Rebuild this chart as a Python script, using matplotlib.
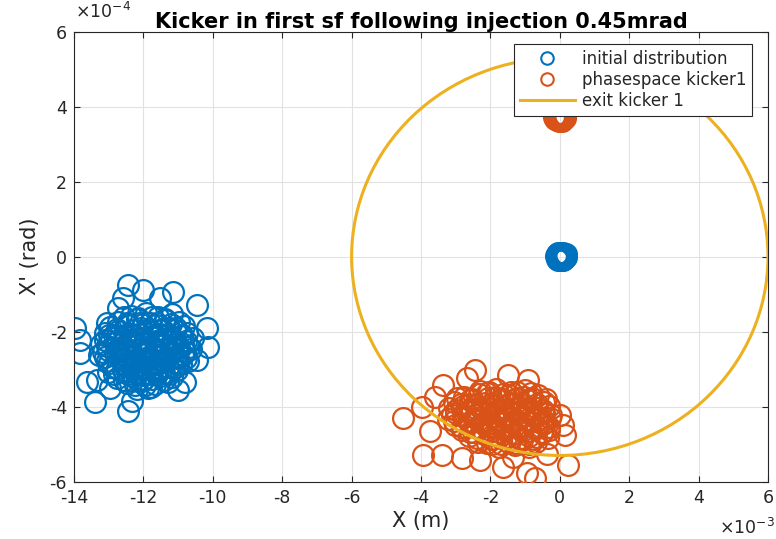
import matplotlib
matplotlib.use("Agg")
import matplotlib.pyplot as plt
from matplotlib.patches import Ellipse
from matplotlib.lines import Line2D

plt.rcParams['font.family'] = ['DejaVu Sans']
plt.rcParams['axes.unicode_minus'] = False

# Positions in units of 1e-3 m (x) and 1e-4 rad (x')
init_x = [
    # outer halo
    -12.44, -12.01, -11.15, -11.52, -12.59, -10.46, -12.73, -13.05, -13.97, -13.83,
    -13.83, -10.17, -10.14, -10.46, -13.63, -13.34, -13.39, -12.44, -12.33, -11.00,
    -10.80, -11.87, -12.96,
    # core
    -12.35, -11.93, -11.57, -11.18,
    -12.72, -12.18, -11.82, -11.38, -10.98,
    -12.97, -12.48, -12.06, -11.63, -11.27, -10.83,
    -13.12, -12.73, -12.32, -11.88, -11.52, -11.08, -10.73,
    -12.92, -12.53, -12.17, -11.73, -11.36, -10.93, -10.58,
    -13.22, -12.78, -12.42, -11.98, -11.62, -11.18, -10.87,
    -13.02, -12.58, -12.22, -11.79, -11.41, -10.98, -10.63,
    -13.27, -12.83, -12.47, -12.03, -11.67, -11.23, -10.86,
    -13.06, -12.63, -12.27, -11.83, -11.47, -11.03, -10.72,
    -12.88, -12.52, -12.08, -11.72, -11.28, -10.91,
    -13.02, -12.58, -12.22, -11.78, -11.42, -11.03,
    -12.77, -12.33, -11.97, -11.53, -11.17,
    -12.47, -12.03, -11.67, -11.28,
    -12.18, -11.77,
    -12.55, -12.10, -11.45, -12.85, -12.35, -11.55, -11.02, -12.70, -11.90, -11.15,
    -12.38, -11.58, -12.85, -11.88, -12.25,
    -12.15, -11.75, -11.38,
    -12.48, -12.00, -11.60, -11.20,
    -12.75, -12.28, -11.85, -11.45, -11.05,
    -13.00, -12.52, -12.10, -11.70, -11.30, -10.90,
    -13.10, -12.72, -12.35, -11.95, -11.55, -11.15, -10.78,
    -13.05, -12.62, -12.20, -11.80, -11.40, -11.00, -10.70,
    -13.15, -12.75, -12.35, -11.95, -11.55, -11.15, -10.80,
    -13.12, -12.68, -12.30, -11.90, -11.50, -11.10, -10.78,
    -12.98, -12.60, -12.18, -11.78, -11.38, -11.00,
    -12.75, -12.32, -11.92, -11.50, -11.12,
    -12.45, -12.05, -11.62, -11.25,
    -12.55, -12.15, -11.75, -11.40,
    -11.95,
    # beam on axis
    -0.12, -0.09, -0.09, -0.05, -0.04, -0.06, -0.01, 0.00, 0.02, 0.03,
    0.04, 0.06, 0.07, 0.09, 0.10, 0.11, 0.13, 0.14, 0.16, 0.18,
    0.19, 0.15, -0.03, 0.08, -0.08, 0.12, 0.01, 0.04,
]
init_y = [
    -0.75, -0.89, -0.94, -1.10, -1.10, -1.29, -1.37, -1.77, -1.90, -2.22,
    -2.57, -1.90, -2.41, -2.75, -3.35, -3.28, -3.88, -4.12, -3.85, -3.55,
    -3.35, -3.49, -3.49,
    -1.58, -1.50, -1.62, -1.53,
    -1.74, -1.66, -1.77, -1.68, -1.75,
    -1.88, -1.83, -1.91, -1.82, -1.90, -1.86,
    -2.03, -1.97, -2.05, -1.99, -2.06, -1.96, -2.04,
    -2.18, -2.12, -2.20, -2.13, -2.19, -2.11, -2.17,
    -2.33, -2.27, -2.35, -2.28, -2.34, -2.26, -2.32,
    -2.48, -2.42, -2.50, -2.43, -2.49, -2.41, -2.47,
    -2.63, -2.57, -2.64, -2.58, -2.65, -2.56, -2.62,
    -2.78, -2.72, -2.80, -2.73, -2.79, -2.71, -2.77,
    -2.93, -2.87, -2.95, -2.88, -2.94, -2.86,
    -3.08, -3.02, -3.10, -3.03, -3.09, -3.01,
    -3.23, -3.17, -3.25, -3.18, -3.22,
    -3.38, -3.32, -3.40, -3.33,
    -3.52, -3.47,
    -1.62, -1.78, -1.95, -2.08, -2.22, -2.24, -2.38, -2.52, -2.55, -2.68,
    -2.83, -2.98, -3.13, -3.12, -3.42,
    -1.63, -1.61, -1.65,
    -1.78, -1.80, -1.76, -1.79,
    -1.93, -1.95, -1.92, -1.94, -1.91,
    -2.08, -2.10, -2.07, -2.09, -2.06, -2.08,
    -2.23, -2.25, -2.22, -2.24, -2.21, -2.23, -2.25,
    -2.38, -2.40, -2.37, -2.39, -2.36, -2.38, -2.40,
    -2.53, -2.55, -2.52, -2.54, -2.51, -2.53, -2.55,
    -2.68, -2.70, -2.67, -2.69, -2.66, -2.68, -2.70,
    -2.83, -2.85, -2.82, -2.84, -2.81, -2.83,
    -2.98, -3.00, -2.97, -2.99, -2.96,
    -3.13, -3.15, -3.12, -3.14,
    -3.28, -3.30, -3.27, -3.29,
    -3.43,
    0.02, 0.06, -0.05, 0.09, -0.08, 0.01, 0.05, -0.04, 0.10, -0.10,
    0.02, 0.07, -0.06, 0.10, -0.09, 0.03, 0.07, -0.04, 0.03, -0.02,
    0.06, 0.00, 0.00, 0.01, -0.01, -0.06, 0.07, -0.08,
]

kick_x = [
    # outer halo
    -4.52, -3.97, -3.94, -3.39, -2.82, -2.44, -1.49, -0.92, -3.37, -2.67,
    0.01, 0.09, 0.15, -1.64, -0.94, -2.30, -1.35, 0.24, -0.37, -0.71,
    -3.75, -3.60,
    # core
    -2.30, -1.85, -1.42, -1.00,
    -2.75, -2.32, -1.88, -1.45, -1.02, -0.62,
    -3.05, -2.60, -2.15, -1.72, -1.28, -0.85, -0.45,
    -3.18, -2.80, -2.38, -1.93, -1.52, -1.08, -0.66, -0.30,
    -3.00, -2.57, -2.13, -1.70, -1.27, -0.86, -0.45,
    -3.22, -2.77, -2.35, -1.90, -1.48, -1.05, -0.63, -0.28,
    -3.02, -2.58, -2.17, -1.73, -1.30, -0.88, -0.47,
    -2.82, -2.38, -1.95, -1.52, -1.08, -0.67, -0.32,
    -2.62, -2.18, -1.75, -1.32, -0.90, -0.50,
    -2.35, -1.93, -1.50, -1.08, -0.68,
    -1.75, -1.30, -0.88,
    -2.05, -1.22, -2.45, -0.95, -2.80, -1.60, -0.55, -2.00, -1.15, -2.50,
    -1.40, -0.75, -1.95,
    -2.10, -1.65, -1.22, -0.82,
    -2.95, -2.52, -2.08, -1.65, -1.22, -0.80, -0.40,
    -2.85, -2.40, -1.95, -1.50, -1.08, -0.65,
    -3.00, -2.60, -2.18, -1.72, -1.30, -0.88, -0.48,
    -3.10, -2.75, -2.38, -1.92, -1.48, -1.05, -0.65, -0.25,
    -3.05, -2.58, -2.12, -1.70, -1.27, -0.85, -0.42,
    -2.82, -2.38, -1.95, -1.52, -1.08, -0.68, -0.30,
    -2.60, -2.18, -1.75, -1.32, -0.88, -0.50,
    -2.40, -1.97, -1.55, -1.12, -0.70, -0.35,
    -2.10, -1.70, -1.28, -0.90,
    # beam on axis after the kick
    -0.16, -0.13, -0.13, -0.09, -0.08, -0.10, -0.05, -0.04, -0.02, -0.01,
    0.00, 0.02, 0.03, 0.05, 0.06, 0.07, 0.09, 0.10, 0.12, 0.14,
    0.15, 0.11, -0.07, 0.04, -0.12, 0.08, -0.03, 0.00,
]
kick_y = [
    -4.30, -4.01, -5.29, -5.29, -5.37, -3.02, -3.15, -3.29, -3.42, -3.23,
    -4.22, -4.49, -4.75, -5.61, -5.77, -5.42, -5.34, -5.55, -5.25, -5.90,
    -4.65, -3.75,
    -3.58, -3.52, -3.60, -3.55,
    -3.73, -3.67, -3.75, -3.68, -3.74, -3.70,
    -3.88, -3.82, -3.90, -3.83, -3.89, -3.81, -3.87,
    -4.03, -3.97, -4.05, -3.98, -4.06, -3.96, -4.04, -3.99,
    -4.18, -4.12, -4.20, -4.13, -4.19, -4.11, -4.17,
    -4.33, -4.27, -4.35, -4.28, -4.34, -4.26, -4.32, -4.29,
    -4.48, -4.42, -4.50, -4.43, -4.49, -4.41, -4.47,
    -4.63, -4.57, -4.65, -4.58, -4.64, -4.56, -4.62,
    -4.78, -4.72, -4.80, -4.73, -4.79, -4.71,
    -4.93, -4.87, -4.95, -4.88, -4.94,
    -5.07, -5.02, -5.08,
    -3.62, -3.78, -3.93, -4.08, -4.22, -4.22, -4.40, -4.52, -4.55, -4.68,
    -4.85, -4.85, -5.00,
    -3.63, -3.65, -3.62, -3.64,
    -3.78, -3.80, -3.77, -3.79, -3.76, -3.78, -3.80,
    -3.93, -3.95, -3.92, -3.94, -3.91, -3.93,
    -4.08, -4.10, -4.07, -4.09, -4.06, -4.08, -4.10,
    -4.23, -4.25, -4.22, -4.24, -4.21, -4.23, -4.25, -4.22,
    -4.38, -4.40, -4.37, -4.39, -4.36, -4.38, -4.40,
    -4.53, -4.55, -4.52, -4.54, -4.51, -4.53, -4.55,
    -4.68, -4.70, -4.67, -4.69, -4.66, -4.68,
    -4.83, -4.85, -4.82, -4.84, -4.81, -4.83,
    -4.98, -5.00, -4.97, -4.99,
    3.73, 3.77, 3.67, 3.80, 3.64, 3.72, 3.76, 3.68, 3.81, 3.62,
    3.73, 3.78, 3.66, 3.81, 3.63, 3.75, 3.78, 3.68, 3.75, 3.70,
    3.77, 3.72, 3.72, 3.73, 3.71, 3.66, 3.78, 3.64,
]

# Acceptance ellipse at the kicker exit: centre and semi-axes
exit_center = (0.0, 0.0)
exit_half_x = 6.0
exit_half_y = 5.3

x_ticks = [-14, -12, -10, -8, -6, -4, -2, 0, 2, 4, 6]
y_ticks = [-6, -4, -2, 0, 2, 4, 6]

blue = '#0072BD'
orange = '#D95319'
yellow = '#EDB120'
dark = '#262626'

fig = plt.figure(figsize=(7.76, 5.39), dpi=100)
ax = fig.add_axes([74 / 776, 1 - 481.7 / 539, 694 / 776, 450 / 539])

marker_style = dict(linestyle='none', marker='o', markersize=15,
                    markerfacecolor='none', markeredgewidth=1.6)
ax.plot(init_x, init_y, markeredgecolor=blue, zorder=2, **marker_style)
ax.plot(kick_x, kick_y, markeredgecolor=orange, zorder=3, **marker_style)
ax.add_patch(Ellipse(exit_center, 2 * exit_half_x, 2 * exit_half_y, fill=False,
                     edgecolor=yellow, linewidth=2.2, zorder=4))

ax.set_xlim(x_ticks[0], x_ticks[-1])
ax.set_ylim(y_ticks[0], y_ticks[-1])
ax.set_xticks(x_ticks)
ax.set_yticks(y_ticks)
ax.grid(True, color='#e2e2e2', linewidth=0.8)
ax.set_axisbelow(True)
ax.tick_params(direction='in', length=4.5, width=0.8, colors=dark, labelsize=12.5,
               top=True, right=True, pad=5)
for sp in ax.spines.values():
    sp.set_color(dark)
    sp.set_linewidth(0.8)

ax.set_title('Kicker in first sf following injection 0.45mrad', fontsize=15,
             fontweight='bold', color='black', pad=3)
ax.set_xlabel('X (m)', fontsize=15, color=dark, labelpad=3)
ax.set_ylabel("X' (rad)", fontsize=15, color=dark, labelpad=7)
fig.text(75 / 776, 1 - 12 / 539, r'$\times10^{-4}$', fontsize=12.5, color=dark,
         ha='left', va='center')
fig.text(775 / 776, 1 - 528 / 539, r'$\times10^{-3}$', fontsize=12.5, color=dark,
         ha='right', va='center')

handles = [
    Line2D([], [], linestyle='none', marker='o', markersize=9, markerfacecolor='none',
           markeredgecolor=blue, markeredgewidth=1.5),
    Line2D([], [], linestyle='none', marker='o', markersize=9, markerfacecolor='none',
           markeredgecolor=orange, markeredgewidth=1.5),
    Line2D([], [], color=yellow, linewidth=2.2),
]
labels = ['initial distribution', 'phasespace kicker1', 'exit kicker 1']
leg = ax.legend(handles, labels, loc='upper right', bbox_to_anchor=(0.977, 0.9727),
                borderaxespad=0, fontsize=12, handlelength=3.3, handletextpad=0.42,
                labelspacing=0.18, borderpad=0.35, fancybox=False, framealpha=1,
                edgecolor=dark)
leg.get_frame().set_linewidth(0.8)
leg.set_zorder(10)
for t in leg.get_texts():
    t.set_color(dark)

fig.savefig('out.png', dpi=100)
